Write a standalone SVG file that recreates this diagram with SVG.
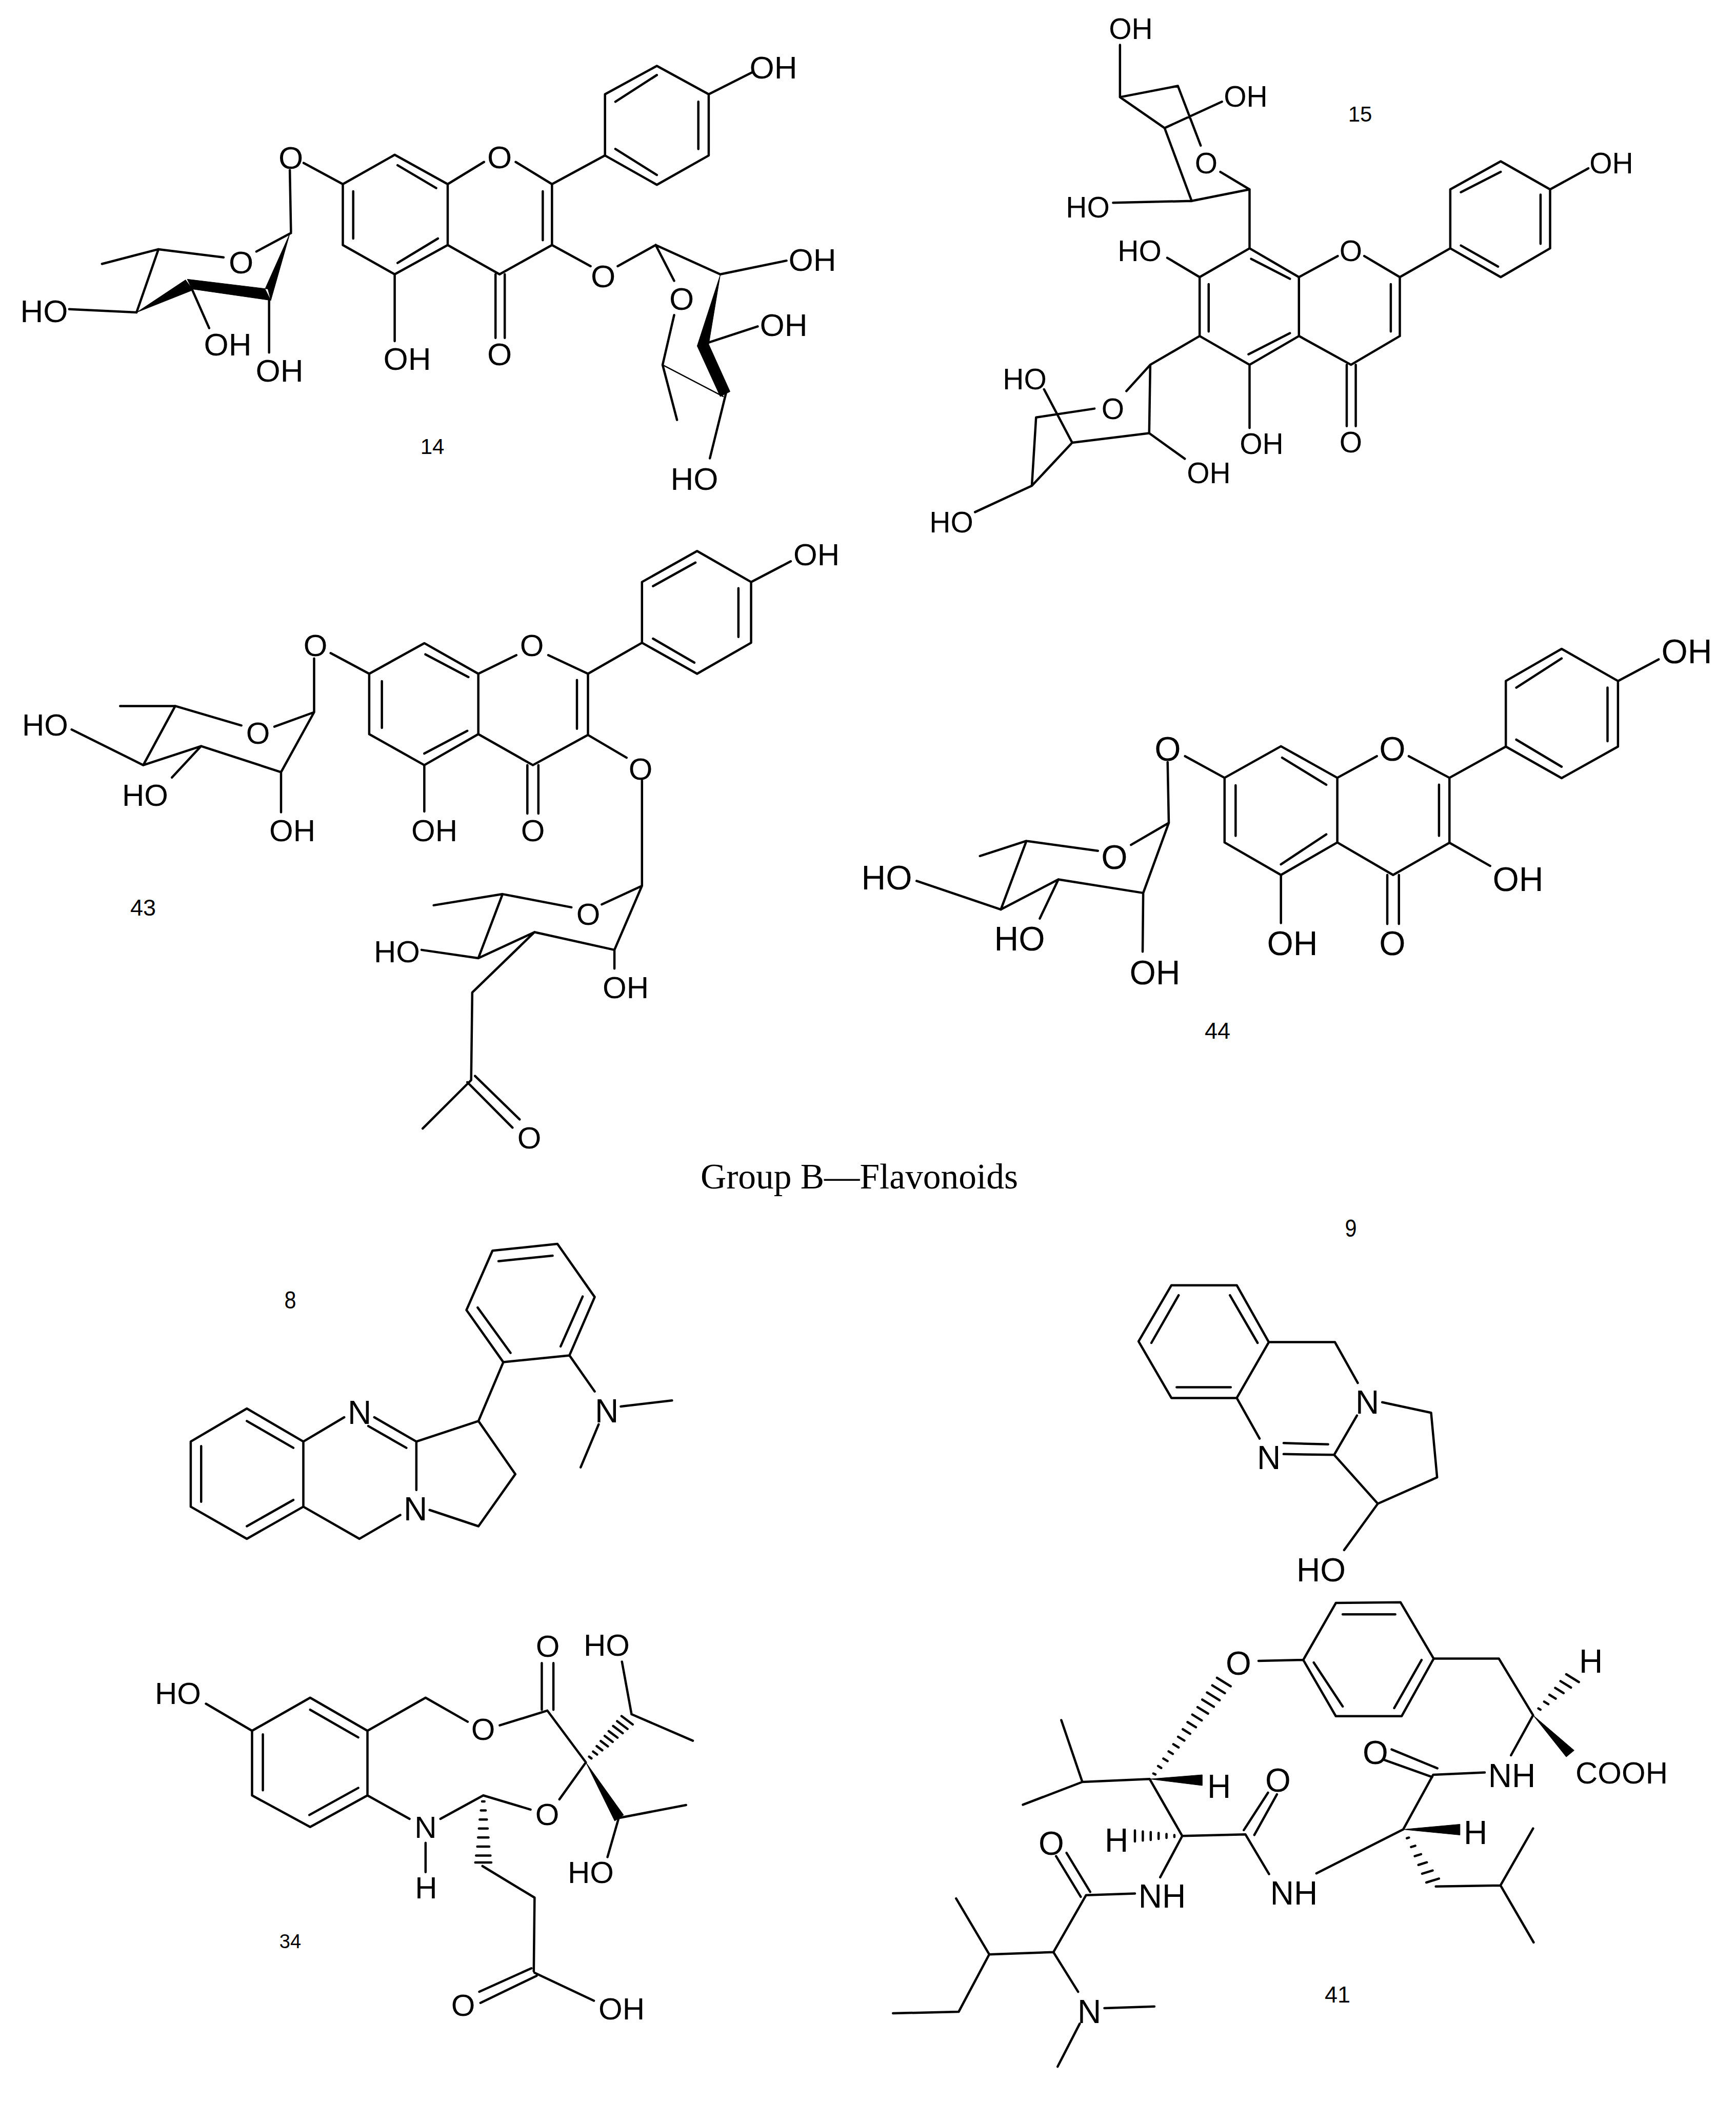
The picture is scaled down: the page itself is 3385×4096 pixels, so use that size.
<svg xmlns="http://www.w3.org/2000/svg" width="3385" height="4096" viewBox="0 0 3385 4096">
<style>
.b{fill:none;stroke:#000;stroke-width:4.5;stroke-linecap:round;stroke-linejoin:round;vector-effect:non-scaling-stroke}
.w{fill:#000;stroke:#000;stroke-width:1;vector-effect:non-scaling-stroke}
.t{font-family:"Liberation Sans",Arial,sans-serif;text-anchor:middle;fill:#000}
.f57{font-size:57px}.f60{font-size:60px}.f62{font-size:62px}.f64{font-size:64px}.f66{font-size:66px}
.n{font-size:42px}.n2{font-size:45px}.n3{font-size:38px}.n4{font-size:48px}
.cap{font-family:"Liberation Serif","Times New Roman",serif;font-size:69px;fill:#000}
</style>
<rect width="3385" height="4096" fill="#fff"/>

<g id="mol-14">
<g id="bonds-14" transform="translate(0,45.95) scale(1.1235,0.6349)">
<path class="b" d="M1140 130L1230 217L1230 405L1140 495L1050 405L1050 217ZM1140 158L1068 240M1212 240L1212 385M1140 465L1068 385M1230 217L1305 150M958 493L1050 405M895 425L958 493M840 425L777 493M777 493L685 403L595 493L595 680L685 770L777 680L777 493M690 435L757 505M613 515L613 660M690 735L760 660M958 493L958 680M942 515L942 665M958 680L867 770L777 680M860 770L860 965M876 770L876 965M685 770L685 975M595 493L527 428M503 450L505 640M505 643L445 700M388 718L275 693M275 693L177 738M275 693L237 887M237 887L120 877M333 815L363 935M467 848L467 1010M958 680L1025 745M1072 745L1138 680M1138 680L1250 770M1250 770L1365 728M1138 680L1170 790M1170 895L1150 1048M1150 1048L1175 1217M1220 985L1315 930M1260 1135L1232 1335"/>
<path class="b" style="stroke-width:2.5" d="M1150 1048L1255 1145"/>
<path class="w" d="M503 645L460 815L470 850ZM465 815L470 850L333 815L325 785ZM237 887L322 787L335 818ZM1250 772L1210 990L1230 985ZM1210 990L1230 985L1267 1130L1250 1145Z"/>
</g>
<g id="labels-14" class="t f62">
<text x="1508" y="153">OH</text><text x="974" y="328">O</text><text x="567" y="329">O</text><text x="794" y="721">OH</text><text x="974" y="712">O</text><text x="470" y="533">O</text><text x="86" y="628">HO</text><text x="444" y="693">OH</text><text x="545" y="744">OH</text><text x="1176" y="560">O</text><text x="1584" y="528">OH</text><text x="1329" y="604">O</text><text x="1528" y="655">OH</text><text x="1354" y="955">HO</text>
<text class="n" x="843" y="885">14</text>
</g>
</g>

<g id="mol-15">
<g id="bonds-15" transform="translate(1761.4,0) scale(1.0354,0.6838)">
<path class="b" d="M1125 460L1218 540L1218 708L1125 790L1030 708L1030 540ZM1125 490L1050 548M1200 555L1200 695M1120 760L1050 700M1218 540L1290 480M935 790L1030 708M868 730L935 790M818 730L745 790M652 708L745 790L745 958L652 1040L558 958L558 790ZM655 738L728 795M575 810L575 945M650 1010L728 950M935 790L935 958M918 810L918 945M935 958L843 1040L745 958M835 1040L835 1215M852 1040L852 1215M652 1040L652 1220M558 790L497 735M652 708L652 540M652 540L597 490M652 540L543 573L395 578M543 573L492 365L408 277L408 128M408 277L517 245L560 415M492 365L600 290M558 958L465 1040L420 1115M360 1165L250 1190L242 1385M465 1040L463 1235L318 1262L265 1110M318 1262L242 1385M463 1235L530 1308M242 1385L135 1460"/>
</g>
<g id="labels-15" class="t f57">
<text x="3142" y="338">OH</text><text x="2634" y="509">O</text><text x="2222" y="509">HO</text><text x="2352" y="338">O</text><text x="2121" y="424">HO</text><text x="2205" y="76">OH</text><text x="2429" y="208">OH</text><text x="2460" y="885">OH</text><text x="2634" y="882">O</text><text x="1998" y="759">HO</text><text x="2170" y="817">O</text><text x="2357" y="942">OH</text><text x="1855" y="1038">HO</text>
<text class="n" x="2652" y="237">15</text>
</g>
</g>

<g id="mol-43">
<g id="bonds-43" transform="translate(0,1033.9) scale(1.0745,0.8059)">
<path class="b" d="M1265 50L1363 125L1363 272L1265 347L1165 272L1165 125ZM1262 78L1185 135M1340 140L1340 258M1260 320L1185 262M1363 125L1435 75M1067 347L1165 272M995 302L1067 347M937 302L868 347M770 273L868 347L868 493L770 568L670 493L670 347ZM772 300L850 355M693 365L693 478M770 540L848 485M1067 347L1067 495M1047 362L1047 480M1067 495L967 568L868 493M957 568L957 685M977 568L977 685M770 568L770 680M670 347L600 297M570 310L570 440L498 475M438 472L318 425L218 425M318 425L260 568L130 482M260 568L365 522L510 585L570 440M365 522L312 598M510 585L510 682M1067 495L1137 550M1165 605L1165 860L1092 905M1037 912L912 880L787 907M912 880L868 1035L765 1015M868 1035L970 972L1115 1015L1165 860M1115 1015L1115 1060M970 972L857 1118L855 1330L767 1447M848 1335L930 1445M862 1320L943 1425"/>
</g>
<g id="labels-43" class="t f60">
<text x="1592" y="1102">OH</text><text x="1037" y="1279">O</text><text x="615" y="1279">O</text><text x="847" y="1640">OH</text><text x="1039" y="1640">O</text><text x="503" y="1450">O</text><text x="88" y="1434">HO</text><text x="283" y="1571">HO</text><text x="570" y="1640">OH</text><text x="1249" y="1520">O</text><text x="1147" y="1803">O</text><text x="774" y="1876">HO</text><text x="1220" y="1946">OH</text><text x="1032" y="2239">O</text>
<text class="n2" x="279" y="1785">43</text>
</g>
</g>

<g id="mol-44">
<g id="bonds-44" transform="translate(1608.2,1187) scale(1.1331,0.5861)">
<path class="b" d="M1268 133L1365 240L1365 458L1268 563L1172 458L1172 240ZM1268 165L1190 262M1347 262L1347 440M1268 525L1190 435M1365 240L1435 168M1075 562L1172 458M1005 490L1075 562M950 490L882 562M785 457L882 562L882 777L785 885L688 777L688 562ZM787 495L863 585M707 587L707 755M785 850L863 750M1075 562L1075 778M1057 585L1057 755M1075 778L978 885L882 777M1075 778L1145 855M968 885L968 1048M988 885L988 1048M785 885L785 1045M688 562L620 490M590 510L592 712L527 785M470 805L347 772L267 822M347 772L303 1000L158 905M303 1000L402 900L548 945L592 712M402 900L370 1030M548 945L547 1140"/>
</g>
<g id="labels-44" class="t f66">
<text x="3289" y="1293">OH</text><text x="2715" y="1483">O</text><text x="2277" y="1483">O</text><text x="2960" y="1737">OH</text><text x="2715" y="1862">O</text><text x="2520" y="1862">OH</text><text x="2173" y="1694">O</text><text x="1729" y="1734">HO</text><text x="1988" y="1853">HO</text><text x="2252" y="1919">OH</text>
<text class="n2" x="2374" y="2025">44</text>
</g>
</g>

<text id="caption" class="cap" x="1366" y="2317" textLength="619" lengthAdjust="spacingAndGlyphs">Group B—Flavonoids</text>

<g id="mol-8">
<g id="bonds-8" transform="translate(229.7,2335.7) scale(0.7814,0.4884)">
<path class="b" d="M322 840L463 972L463 1232L322 1360L182 1232L182 972ZM322 890L438 997M208 990L208 1212M322 1310L438 1205M463 972L565 875M640 875L745 972M625 910L720 997M745 972L745 1165M463 1232L603 1360L705 1265M778 1245L900 1310L992 1102L900 890L745 972M900 890L962 655M962 655L1127 628L1190 395L1097 183L935 210L870 447ZM950 252L1085 230M1160 393L1105 592M898 437L980 618M1127 628L1190 772M1255 832L1383 808M1200 903L1155 1075"/>
</g>
<g id="labels-8" class="t f64">
<text x="701" y="2776">N</text><text x="810" y="2964">N</text><text x="1183" y="2773">N</text>
<text class="n4" x="566" y="2551" textLength="23" lengthAdjust="spacingAndGlyphs">8</text>
</g>
</g>

<g id="mol-9">
<g id="bonds-9" transform="translate(2067.7,2335.7) scale(0.7814,0.4884)">
<path class="b" d="M277 348L440 348L520 575L440 798L277 798L195 572ZM295 388L227 578M423 388L492 578M290 755L425 755M520 575L685 575L742 738M803 815L925 857L940 1115L792 1220L683 1025L740 868M440 798L497 960M557 1022L683 1025M557 978L668 983M792 1220L708 1405"/>
</g>
<g id="labels-9" class="t f64">
<text x="2666" y="2756">N</text><text x="2474" y="2864">N</text><text x="2576" y="3083">HO</text>
<text class="n4" x="2634" y="2411" textLength="23" lengthAdjust="spacingAndGlyphs">9</text>
</g>
</g>

<g id="mol-34">
<g id="bonds-34" transform="translate(229.7,3139.8) scale(0.7814,0.5861)">
<path class="b" d="M480 290L623 400L623 615L480 720L335 615L335 400ZM480 330L600 422M362 412L362 598M478 680L600 590M335 400L220 310M623 400L768 290L873 370M953 382L1072 333M1058 330L1058 175M1087 330L1087 175M1072 333L1168 505L1102 628M1030 662L912 615L805 693M623 615L728 693M768 773L768 870M910 850L1040 955L1038 1200M1032 1190L902 1268M1045 1215L905 1305M1040 1205L1188 1298M1282 345L1435 433M1282 345L1258 170M1250 690L1418 647M1250 690L1222 820"/>
<path class="b" d="M909 635L915 635M906 665L918 665M903 695L921 695M901 725L923 725M899 755L925 755M897 785L927 785M894 815L930 815M892 838L932 838M1176 486L1182 492M1186 469L1196 479M1195 451L1209 465M1205 434L1223 452M1215 417L1235 437M1225 401L1247 423M1236 384L1260 408M1246 368L1272 394M1257 351L1285 379"/>
<path class="w" d="M1168 505L1262 680L1240 700Z"/>
</g>
<g id="labels-34" class="t f60">
<text x="347" y="3322">HO</text><text x="942" y="3392">O</text><text x="1068" y="3230">O</text><text x="1183" y="3228">HO</text><text x="1067" y="3558">O</text><text x="830" y="3583">N</text><text x="831" y="3701">H</text><text x="903" y="3930">O</text><text x="1212" y="3937">OH</text><text x="1152" y="3671">HO</text>
<text class="n3" x="566" y="3798">34</text>
</g>
</g>

<g id="mol-41">
<g id="bonds-41" transform="translate(1684.8,3101.6) scale(1.0256,0.6344)">
<path class="b" d="M897 37L1020 35L1083 208L1022 385L897 385L835 212ZM910 72L1010 72M1060 212L1008 360M855 220L910 355M835 212L750 215M1083 208L1207 208L1272 382L1230 505M1180 558L1082 565L1025 733L860 868M1090 545L1003 487M1080 572L990 520M1087 908L1210 905L1272 730M1210 905L1273 1080M770 870L725 748L605 753L543 578L415 587L375 397M722 735L768 620M742 750L785 625M415 587L302 657M605 753L563 880M515 930L422 935L360 1110L238 1117L175 945M430 925L385 805M412 940L365 815M238 1117L180 1293L55 1298M360 1110L407 1232M457 1282L552 1277M410 1330L368 1462"/>
<path class="b" d="M550 561L554 564M559 538L565 544M569 515L577 523M579 493L587 501M588 471L598 481M597 448L609 460M606 425L620 439M615 403L631 419M624 380L642 398M634 357L654 377M643 334L665 356M652 312L676 336M662 290L686 314M671 267L697 293M1282 361L1286 365M1293 340L1301 348M1303 319L1315 331M1314 298L1330 314M1324 277L1344 297M1335 256L1359 280M1032 760L1036 758M1040 787L1048 783M1047 815L1059 809M1054 842L1070 834M1061 869L1081 859M1069 896L1093 884M590 750L590 756M575 747L575 759M560 744L560 762M545 741L545 765M530 739L530 767M515 736L515 770"/>
<path class="w" d="M1272 382L1350 490L1335 510ZM1025 733L1133 717L1133 750ZM543 578L643 565L643 598Z"/>
</g>
<g id="labels-41" class="t f64">
<text x="2415" y="3265">O</text><text x="3102" y="3261">H</text><text x="2948" y="3484">NH</text><text class="f60" x="3162" y="3477">COOH</text><text x="2682" y="3439">O</text><text x="2877" y="3595">H</text><text x="2523" y="3713">NH</text><text x="2492" y="3493">O</text><text x="2177" y="3610">H</text><text x="2377" y="3505">H</text><text x="2266" y="3719">NH</text><text x="2050" y="3616">O</text><text x="2124" y="3944">N</text>
<text class="n2" x="2608" y="3904">41</text>
</g>
</g>
</svg>
